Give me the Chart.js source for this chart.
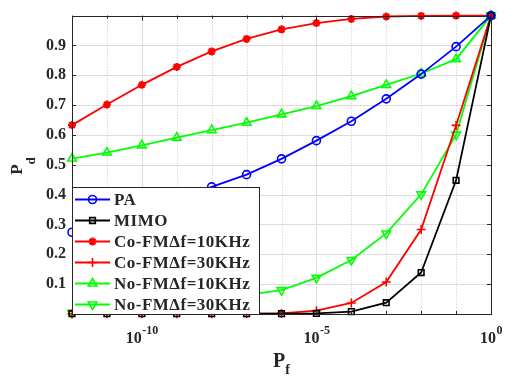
<!DOCTYPE html>
<html>
<head>
<meta charset="utf-8">
<script src="https://cdn.jsdelivr.net/npm/chart.js@4/dist/chart.umd.min.js"></script>
<style>
  body { margin: 0; background: #fff; }
  canvas { display: block; }
</style>
</head>
<body>
<canvas id="pd-chart" width="513" height="376"></canvas>
<script>
// Data (Pf = 10^exponent)
const exponents = [-12, -11, -10, -9, -8, -7, -6, -5, -4, -3, -2, -1, 0];
const labelExponents = [-10, -5, 0];
const yTicks = [0.1, 0.2, 0.3, 0.4, 0.5, 0.6, 0.7, 0.8, 0.9];

const pa = [0.274, 0.305, 0.34, 0.38, 0.426, 0.467, 0.52, 0.581, 0.646, 0.721, 0.804, 0.896, 1.0];
const mimo = [0.001, 0.001, 0.001, 0.001, 0.001, 0.001, 0.001, 0.002, 0.008, 0.038, 0.139, 0.448, 1.0];
const coFm10 = [0.633, 0.702, 0.768, 0.828, 0.88, 0.922, 0.954, 0.975, 0.989, 0.997, 0.999, 1.0, 1.0];
const coFm30 = [0.001, 0.001, 0.001, 0.001, 0.001, 0.001, 0.002, 0.011, 0.037, 0.107, 0.283, 0.632, 1.0];
const noFm10 = [0.521, 0.541, 0.565, 0.591, 0.616, 0.641, 0.669, 0.697, 0.73, 0.768, 0.806, 0.854, 1.0];
const noFm30 = [0.004, 0.014, 0.025, 0.037, 0.05, 0.064, 0.08, 0.121, 0.181, 0.27, 0.401, 0.601, 1.0];

const FONT = '"Liberation Serif", "Times New Roman", serif';
const TEXT = '#262626';

function toPoints(arr) {
	return exponents.map((e, i) => ({ x: Math.pow(10, e), y: arr[i] }));
}

function series(label, arr, color, style, radius, extra) {
	return Object.assign({
		label: label,
		data: toPoints(arr),
		borderColor: color,
		backgroundColor: 'rgba(0,0,0,0)',
		pointBorderColor: color,
		pointBackgroundColor: 'rgba(0,0,0,0)',
		pointStyle: style,
		pointRadius: radius,
		pointBorderWidth: 1.6,
		borderWidth: 1.8,
		tension: 0,
		clip: false,
	}, extra || {});
}

// Grid, box, ticks, labels and the legend, MATLAB style
const matlabFrame = {
	id: 'matlabFrame',
	beforeDatasetsDraw(chart) {
		const ctx = chart.ctx;
		const a = chart.chartArea;
		const x = chart.scales.x;
		const y = chart.scales.y;
		ctx.save();
		ctx.lineWidth = 1;
		ctx.strokeStyle = '#dcdcdc';
		yTicks.forEach(v => {
			const py = Math.round(y.getPixelForValue(v)) + 0.5;
			ctx.beginPath();
			ctx.moveTo(a.left, py);
			ctx.lineTo(a.right, py);
			ctx.stroke();
		});
		exponents.forEach(e => {
			const px = Math.round(x.getPixelForValue(Math.pow(10, e))) + 0.5;
			if (labelExponents.includes(e)) {
				ctx.setLineDash([]);
				ctx.strokeStyle = '#dcdcdc';
			} else {
				ctx.setLineDash([1, 2]);
				ctx.strokeStyle = '#c8c8c8';
			}
			ctx.beginPath();
			ctx.moveTo(px, a.top);
			ctx.lineTo(px, a.bottom);
			ctx.stroke();
		});
		ctx.restore();
	},
	afterDraw(chart) {
		const ctx = chart.ctx;
		const a = chart.chartArea;
		const x = chart.scales.x;
		const y = chart.scales.y;
		ctx.save();

		// box + inward ticks
		ctx.strokeStyle = '#262626';
		ctx.lineWidth = 1;
		ctx.strokeRect(Math.round(a.left) + 0.5, Math.round(a.top) + 0.5,
			Math.round(a.right - a.left), Math.round(a.bottom - a.top));
		ctx.beginPath();
		yTicks.forEach(v => {
			const py = Math.round(y.getPixelForValue(v)) + 0.5;
			ctx.moveTo(a.left, py); ctx.lineTo(a.left + 4, py);
			ctx.moveTo(a.right, py); ctx.lineTo(a.right - 4, py);
		});
		exponents.forEach(e => {
			const px = Math.round(x.getPixelForValue(Math.pow(10, e))) + 0.5;
			const len = labelExponents.includes(e) ? 5 : 3;
			ctx.moveTo(px, a.bottom); ctx.lineTo(px, a.bottom - len);
			ctx.moveTo(px, a.top); ctx.lineTo(px, a.top + len);
		});
		ctx.stroke();

		// x tick labels 10^e
		ctx.fillStyle = TEXT;
		ctx.textBaseline = 'alphabetic';
		ctx.textAlign = 'left';
		labelExponents.forEach(e => {
			const px = x.getPixelForValue(Math.pow(10, e));
			ctx.font = 'bold 16px ' + FONT;
			const wBase = ctx.measureText('10').width;
			ctx.font = 'bold 12px ' + FONT;
			const wExp = ctx.measureText(String(e)).width;
			const start = px - (wBase + wExp) / 2;
			ctx.font = 'bold 16px ' + FONT;
			ctx.fillText('10', start, 343);
			ctx.font = 'bold 12px ' + FONT;
			ctx.fillText(String(e), start + wBase + 0.5, 334);
		});

		// x title P_f
		ctx.font = 'bold 20px ' + FONT;
		const wP = ctx.measureText('P').width;
		ctx.font = 'bold 14px ' + FONT;
		const wf = ctx.measureText('f').width;
		const cx = (a.left + a.right) / 2;
		const sx = cx - (wP + wf) / 2;
		ctx.font = 'bold 20px ' + FONT;
		ctx.fillText('P', sx, 367);
		ctx.font = 'bold 14px ' + FONT;
		ctx.fillText('f', sx + wP, 374);

		// y title P_d
		ctx.save();
		ctx.translate(22, 166);
		ctx.rotate(-Math.PI / 2);
		ctx.font = 'bold 17px ' + FONT;
		const wPy = ctx.measureText('P').width;
		ctx.font = 'bold 13px ' + FONT;
		const wd = ctx.measureText('d').width;
		const sy = -(wPy + wd) / 2;
		ctx.font = 'bold 17px ' + FONT;
		ctx.fillText('P', sy, 0);
		ctx.font = 'bold 13px ' + FONT;
		ctx.fillText('d', sy + wPy, 13);
		ctx.restore();

		// legend
		const lx = Math.round(a.left) + 0.5;
		const ly = 187.5;
		const lw = 187;
		const lh = Math.round(a.bottom) - 187;
		ctx.fillStyle = '#fff';
		ctx.fillRect(lx, ly, lw, lh);
		ctx.strokeStyle = '#262626';
		ctx.lineWidth = 1;
		ctx.strokeRect(lx, ly, lw, lh);
		chart.data.datasets.forEach((ds, i) => {
			const rowY = 199.5 + i * 21;
			ctx.strokeStyle = ds.borderColor;
			ctx.lineWidth = ds.borderWidth;
			ctx.beginPath();
			ctx.moveTo(75, rowY);
			ctx.lineTo(110, rowY);
			ctx.stroke();
			ctx.fillStyle = 'rgba(0,0,0,0)';
			ctx.lineWidth = ds.pointBorderWidth;
			Chart.helpers.drawPoint(ctx, {
				pointStyle: ds.pointStyle,
				radius: ds.pointRadius,
				rotation: ds.pointRotation || 0,
				borderWidth: ds.pointBorderWidth,
			}, 92.5, rowY);
			ctx.fillStyle = TEXT;
			ctx.font = 'bold 17px ' + FONT;
			ctx.letterSpacing = '0.5px';
			ctx.textBaseline = 'middle';
			ctx.fillText(ds.label, 114, rowY + 1);
			ctx.letterSpacing = '0px';
		});

		ctx.restore();
	},
};

const ctx = document.getElementById('pd-chart');

new Chart(ctx, {
	type: 'line',
	data: {
		datasets: [
			series('PA', pa, '#0000ff', 'circle', 4),
			series('MIMO', mimo, '#000000', 'rect', 4),
			series('Co-FM\u0394f=10KHz', coFm10, '#ff0000', 'star', 4, { pointBorderWidth: 2.2 }),
			series('Co-FM\u0394f=30KHz', coFm30, '#ff0000', 'cross', 4.5),
			series('No-FM\u0394f=10KHz', noFm10, '#00ff00', 'triangle', 5),
			series('No-FM\u0394f=30KHz', noFm30, '#00ff00', 'triangle', 5, { pointRotation: 180 }),
		],
	},
	options: {
		responsive: false,
		animation: false,
		events: [],
		layout: {
			padding: { left: 0, right: 22, top: 15, bottom: 0 },
		},
		plugins: {
			legend: { display: false },
			tooltip: { enabled: false },
		},
		scales: {
			x: {
				type: 'logarithmic',
				min: 1e-12,
				max: 1,
				grid: { display: false },
				border: { display: false },
				ticks: {
					callback: () => '',
				},
				afterBuildTicks: (scale) => {
					scale.ticks = exponents.map(e => ({ value: Math.pow(10, e) }));
				},
				afterFit: (scale) => {
					scale.height = 62;
				},
			},
			y: {
				type: 'linear',
				min: 0,
				max: 1,
				grid: { display: false, drawTicks: false },
				border: { display: false },
				ticks: {
					stepSize: 0.1,
					padding: 6,
					color: TEXT,
					font: { family: FONT, size: 16, weight: 'bold' },
					callback: (v) => (v > 0.05 && v < 0.95) ? v.toFixed(1) : '',
				},
				afterFit: (scale) => {
					scale.width = 72;
				},
			},
		},
	},
	plugins: [matlabFrame],
});
</script>
</body>
</html>
